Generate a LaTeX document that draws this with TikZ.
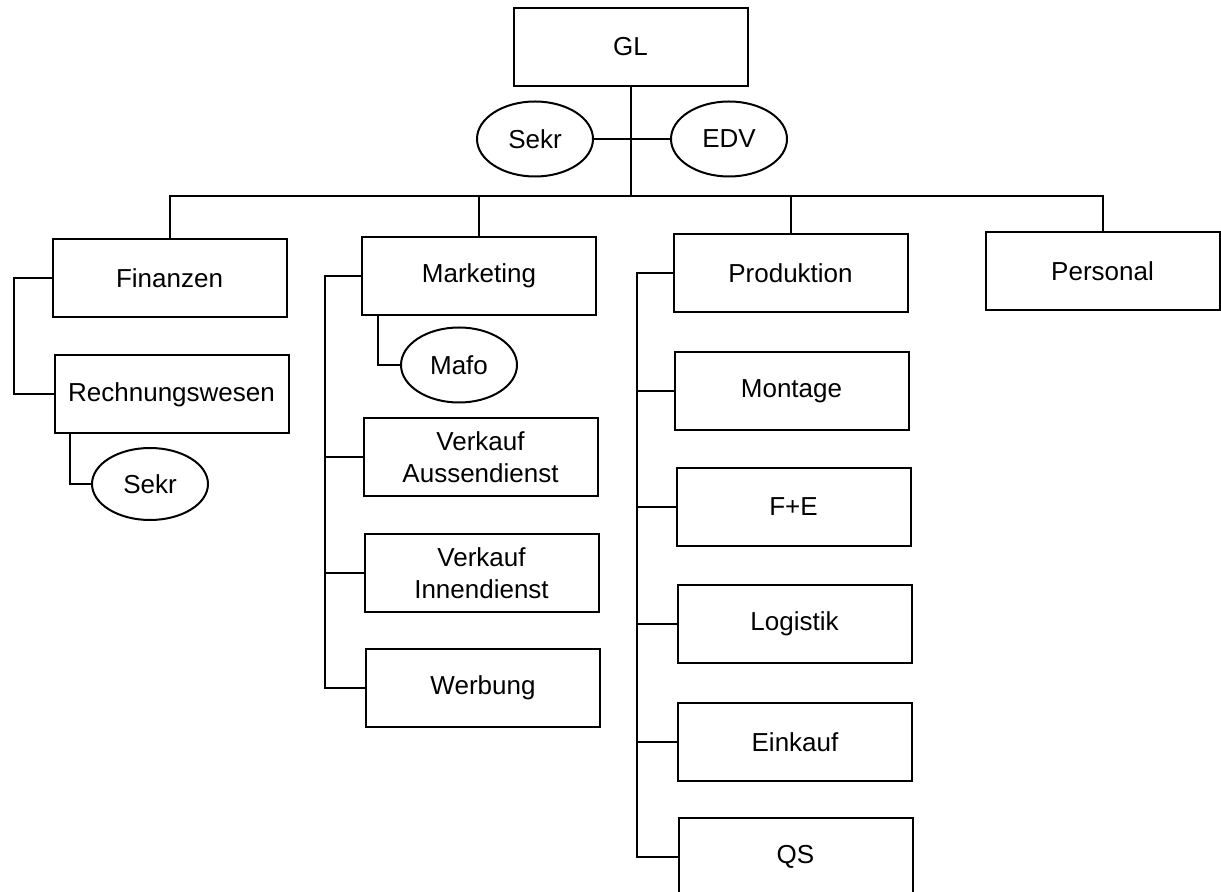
\documentclass[tikz,border=0pt]{standalone}
\usepackage{fontspec}
\setmainfont{Liberation Sans}
\usetikzlibrary{shapes.geometric}
\begin{document}
\begin{tikzpicture}[x=0.5pt,y=-0.5pt,
  line width=1pt,
  every node/.style={font=\fontsize{13}{16}\selectfont, inner sep=0pt},
  unit/.style={draw, rectangle, minimum width=117pt, minimum height=39pt, align=center},
  staff/.style={draw, ellipse, minimum width=58pt, minimum height=37.5pt}]
\clip (0,0) rectangle (1221,892);
\fill[white] (0,0) rectangle (1221,892);
% nodes
\node[unit] (gl) at (630.5,47) {GL};
\node[staff] (sekr1) at (535,139) {Sekr};
\node[staff] (edv) at (729,139) {EDV};
\node[unit] (fin) at (169.5,278) {Finanzen};
\node[unit] (rw) at (171.5,394.5) {Rechnungswesen};
\node[staff, minimum height=36pt] (sekr2) at (150,484) {Sekr};
\node[unit] (mkt) at (479,276) {Marketing};
\node[staff] (mafo) at (459,365) {Mafo};
\node[unit] (va) at (480.5,457.5) {Verkauf\\Aussendienst};
\node[unit] (vi) at (481.5,573) {Verkauf\\Innendienst};
\node[unit] (werb) at (483,688) {Werbung};
\node[unit] (prod) at (790.5,273) {Produktion};
\node[unit] (mont) at (791.5,391.5) {Montage};
\node[unit] (fe) at (793.5,507) {F+E};
\node[unit] (log) at (794.5,624) {Logistik};
\node[unit] (eink) at (795,742) {Einkauf};
\node[unit] (qs) at (795.5,857) {QS};
\node[unit] (pers) at (1102.5,271) {Personal};
% helper coordinates
\coordinate (bus) at (632,196);
\coordinate (mt) at (325,0);
\coordinate (pt) at (637,0);
% top level
\draw (gl.south) -- (gl.south |- bus);
\draw (sekr1.east) -- (edv.west);
\draw (fin.north) -- (fin.north |- bus) -- (pers.north |- bus) -- (pers.north);
\draw (mkt.north) -- (mkt.north |- bus);
\draw (prod.north) -- (prod.north |- bus);
% Finanzen
\draw (fin.west) -- ++(-38,0) |- (rw.west);
\draw ([xshift=8pt]rw.south west) |- (sekr2.west);
% Marketing
\draw ([xshift=8.5pt]mkt.south west) |- (mafo.west);
\draw (mkt.west) -- (mkt.west -| mt) -- (werb.west -| mt) -- (werb.west);
\draw (va.west -| mt) -- (va.west);
\draw (vi.west -| mt) -- (vi.west);
% Produktion
\draw (prod.west) -- (prod.west -| pt) -- (qs.west -| pt) -- (qs.west);
\draw (mont.west -| pt) -- (mont.west);
\draw (fe.west -| pt) -- (fe.west);
\draw (log.west -| pt) -- (log.west);
\draw (eink.west -| pt) -- (eink.west);
\end{tikzpicture}
\end{document}
